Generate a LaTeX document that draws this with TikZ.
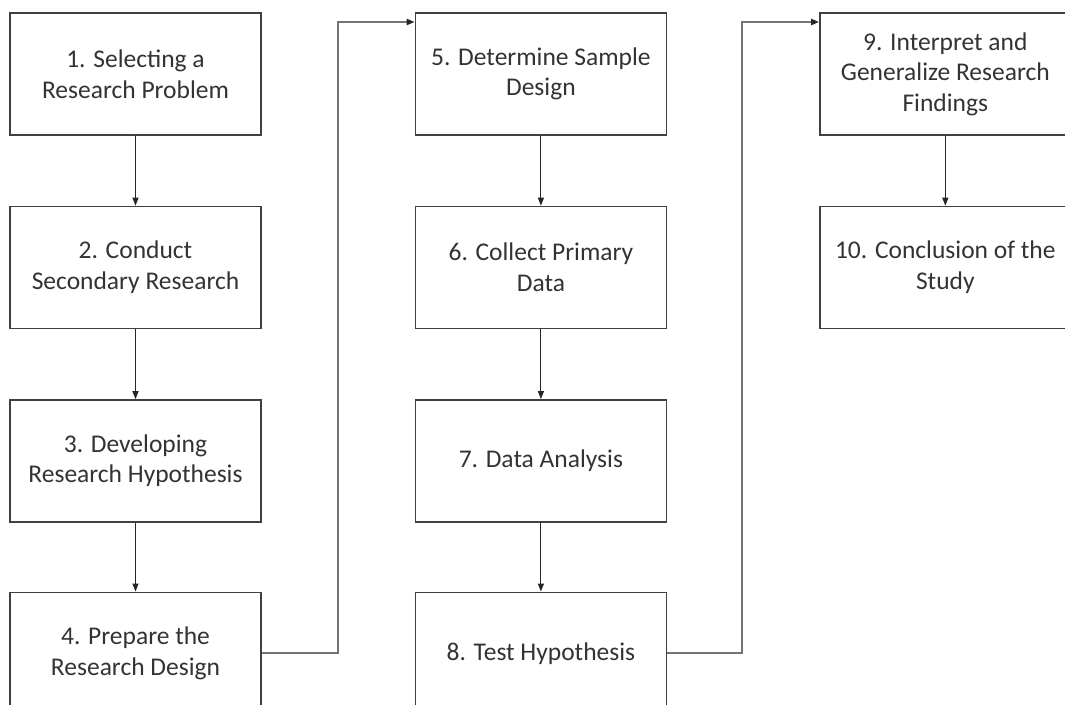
\documentclass[tikz,border=0pt]{standalone}
\usepackage{fontspec}
\setmainfont{Carlito}
\usetikzlibrary{positioning,arrows.meta}

\tikzset{
  stepbox/.style={draw=black!75, line width=1.4pt, minimum width=251pt,
    minimum height=122pt, inner sep=0pt, align=center, text=black!80,
    font=\fontsize{25.5}{30.5}\selectfont},
  flow/.style={-{Triangle[length=8pt,width=6pt]}, line width=1.1pt, draw=black!85},
  jump/.style={-{Triangle[length=8pt,width=6pt,color=black!85]}, line width=2.3pt, draw=black!55}
}

\begin{document}
\begin{tikzpicture}[x=1pt,y=-1pt]
  \useasboundingbox (0,0) rectangle (1065,704);

  % First column
  \node[stepbox] (s1) at (135.5,74) {1. Selecting a\\Research Problem};
  \node[stepbox, below=70pt of s1] (s2) {2. Conduct\\Secondary Research};
  \node[stepbox, below=70pt of s2] (s3) {3. Developing\\Research Hypothesis};
  \node[stepbox, below=69pt of s3] (s4) {4. Prepare the\\Research Design};

  % Second column
  \node[stepbox, right=153pt of s1] (s5) {5. Determine Sample\\Design};
  \node[stepbox, below=70pt of s5] (s6) {6. Collect Primary\\Data};
  \node[stepbox, below=70pt of s6] (s7) {7. Data Analysis};
  \node[stepbox, below=69pt of s7] (s8) {8. Test Hypothesis};

  % Third column
  \node[stepbox, right=152pt of s5] (s9) {9. Interpret and\\Generalize Research\\Findings};
  \node[stepbox, below=70pt of s9] (s10) {10. Conclusion of the\\Study};

  % Arrows down
  \draw[flow] (s1) -- (s2);
  \draw[flow] (s2) -- (s3);
  \draw[flow] (s3) -- (s4);
  \draw[flow] (s5) -- (s6);
  \draw[flow] (s6) -- (s7);
  \draw[flow] (s7) -- (s8);
  \draw[flow] (s9) -- (s10);

  % Jumps to the next column
  \coordinate (j1) at (338,22);
  \coordinate (j2) at (742,22);
  \draw[jump] (s4.east) -| (j1) -- (s5.west |- j1);
  \draw[jump] (s8.east) -| (j2) -- (s9.west |- j2);
\end{tikzpicture}
\end{document}
